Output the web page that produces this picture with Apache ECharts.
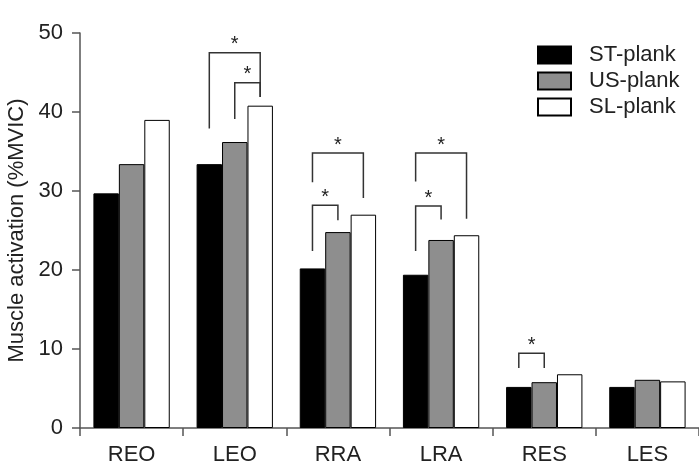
<!DOCTYPE html>
<html>
<head>
<meta charset="utf-8">
<script src="https://cdn.jsdelivr.net/npm/echarts@6/dist/echarts.min.js"></script>
<style>
  html, body { margin: 0; padding: 0; background: #fff; }
  #chart { width: 699px; height: 466px; }
</style>
</head>
<body>
<div id="chart"></div>
<script>
var muscles = ['REO', 'LEO', 'RRA', 'LRA', 'RES', 'LES'];
var stPlank = [29.7, 33.4, 20.2, 19.4, 5.2, 5.2];
var usPlank = [33.4, 36.2, 24.8, 23.8, 5.8, 6.1];
var slPlank = [39.0, 40.8, 27.0, 24.4, 6.8, 5.9];
// significance brackets: [muscle, from bar, to bar, top, left leg end, right leg end]
var brackets = [
  [1, 0, 2, 47.5, 37.9, 41.9],
  [1, 1, 2, 43.7, 39.1, 41.9],
  [2, 0, 2, 34.8, 31.1, 29.1],
  [2, 0, 1, 28.2, 22.4, 26.3],
  [3, 0, 2, 34.8, 31.2, 26.5],
  [3, 0, 1, 28.1, 22.4, 26.4],
  [4, 0, 1, 9.45, 7.6, 7.6]
];

var catGap = 0.26;
var font = 'Liberation Sans, Arial, sans-serif';

function drawChart () {
  var chartDom = document.getElementById('chart');
  var myChart = echarts.init(chartDom);
  var option;

  var barStyle = function (color) {
    return { color: color, borderColor: '#000', borderWidth: 1 };
  };

  option = {
    animation: false,
    textStyle: { fontFamily: font },
    grid: { left: 80, right: 0, top: 33, bottom: 38, containLabel: false, outerBoundsMode: 'none' },
    legend: {
      orient: 'vertical',
      left: 537,
      top: 44,
      padding: 0,
      itemWidth: 33,
      itemHeight: 17,
      itemGap: 4,
      icon: 'rect',
      data: ['ST-plank', 'US-plank', 'SL-plank'],
      textStyle: { fontSize: 22, color: '#222', fontFamily: font, padding: [0, 0, 0, 13] }
    },
    xAxis: {
      type: 'category',
      data: muscles,
      axisLine: { lineStyle: { color: '#555', width: 1.5 } },
      axisTick: { show: true, length: 8, lineStyle: { color: '#555', width: 1.5 } },
      axisLabel: { fontSize: 22, color: '#222', margin: 16, fontFamily: font }
    },
    yAxis: {
      type: 'value',
      min: 0,
      max: 50,
      interval: 10,
      name: 'Muscle activation (%MVIC)',
      nameLocation: 'middle',
      nameGap: 52,
      nameTextStyle: { fontSize: 22, color: '#222', fontFamily: font },
      splitLine: { show: false },
      axisLine: { show: true, lineStyle: { color: '#555', width: 1.5 } },
      axisTick: { show: true, length: 8, lineStyle: { color: '#555', width: 1.5 } },
      axisLabel: { fontSize: 22, color: '#222', margin: 17, fontFamily: font }
    },
    series: [
      {
        name: 'ST-plank', type: 'bar', data: stPlank,
        barGap: '0%', barCategoryGap: (catGap * 100) + '%',
        itemStyle: barStyle('#000')
      },
      {
        name: 'US-plank', type: 'bar', data: usPlank,
        barGap: '0%', barCategoryGap: (catGap * 100) + '%',
        itemStyle: barStyle('#8e8e8e')
      },
      {
        name: 'SL-plank', type: 'bar', data: slPlank,
        barGap: '0%', barCategoryGap: (catGap * 100) + '%',
        itemStyle: barStyle('#fff')
      },
      {
        type: 'custom',
        silent: true,
        z: 5,
        data: brackets,
        encode: { x: 0, y: 3 },
        renderItem: function (params, api) {
          var cat = api.value(0);
          var band = api.size([1, 0])[0];
          var bw = band * (1 - catGap) / 3;
          var cx = api.coord([cat, 0])[0];
          var x1 = cx + (api.value(1) - 1) * bw;
          var x2 = cx + (api.value(2) - 1) * bw;
          var yTop = api.coord([cat, api.value(3)])[1];
          var yL = api.coord([cat, api.value(4)])[1];
          var yR = api.coord([cat, api.value(5)])[1];
          return {
            type: 'group',
            children: [
              {
                type: 'polyline',
                shape: { points: [[x1, yL], [x1, yTop], [x2, yTop], [x2, yR]] },
                style: { stroke: '#333', lineWidth: 1.5, fill: null }
              },
              {
                type: 'text',
                style: {
                  x: (x1 + x2) / 2, y: yTop - 8, text: '*',
                  fontSize: 20, fontFamily: font, fill: '#222',
                  align: 'center', verticalAlign: 'middle'
                }
              }
            ]
          };
        }
      }
    ]
  };

  option && myChart.setOption(option);
}

drawChart();
</script>
</body>
</html>
